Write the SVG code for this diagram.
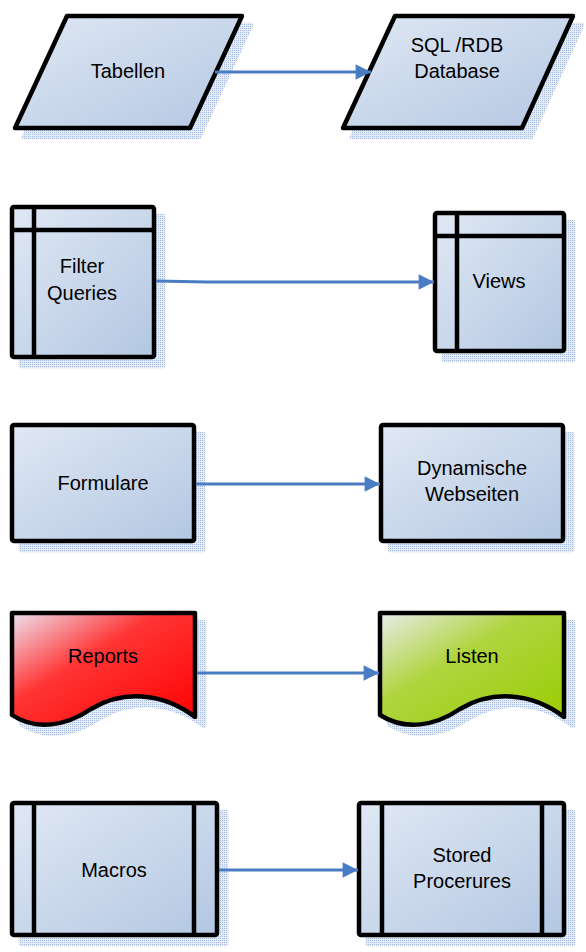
<svg xmlns="http://www.w3.org/2000/svg" width="586" height="952" viewBox="0 0 586 952">
<defs>
<linearGradient id="gBlue" x1="0" y1="0" x2="1" y2="1">
<stop offset="0" stop-color="#e0e8f4"/>
<stop offset="1" stop-color="#b3c7e2"/>
</linearGradient>
<linearGradient id="gRed" x1="0" y1="0" x2="1" y2="1">
<stop offset="0" stop-color="#ece4f0"/>
<stop offset="0.4" stop-color="#ff3535"/>
<stop offset="1" stop-color="#ff0000"/>
</linearGradient>
<linearGradient id="gGreen" x1="0" y1="0" x2="1" y2="1">
<stop offset="0" stop-color="#e8ecec"/>
<stop offset="0.4" stop-color="#b0d540"/>
<stop offset="1" stop-color="#99cc00"/>
</linearGradient>
<pattern id="dots" width="2" height="2" patternUnits="userSpaceOnUse">
<rect width="2" height="2" fill="#e6ecf6"/>
<rect width="1" height="1" fill="#a6bce0"/>
</pattern>
<marker id="arr" viewBox="0 0 10 10" refX="10" refY="5" markerWidth="6" markerHeight="5.5" markerUnits="strokeWidth" orient="auto">
<path d="M0,0 L10,5 L0,10 z" fill="#4a7cc4"/>
</marker>
</defs>
<style>
.sh{fill:url(#dots);stroke:url(#dots);stroke-width:4.5;stroke-linejoin:round}
.bx{stroke:#000;stroke-width:4.5;stroke-linejoin:round;fill:url(#gBlue)}
.ln{stroke:#000;stroke-width:4.5;fill:none}
.t{font-family:"Liberation Sans",Arial,sans-serif;font-size:20px;fill:#000;text-anchor:middle}
.c{stroke:#4a7cc4;stroke-width:2.8;fill:none}
</style>

<g id="tabellen">
<path class="sh" d="M76,25 L251,25 L199,137 L24,137 z"/>
<path class="bx" d="M67,16 L242,16 L190,128 L15,128 z"/>
<text class="t" x="128" y="78">Tabellen</text>
</g>

<g id="sqlrdb">
<path class="sh" d="M404,25 L582,25 L531,137 L352,137 z"/>
<path class="bx" d="M395,16 L573,16 L522,128 L343,128 z"/>
<text class="t" x="457" y="52">SQL /RDB</text>
<text class="t" x="457" y="78">Database</text>
</g>

<g id="filterqueries">
<rect class="sh" x="21" y="216" width="142" height="150"/>
<rect class="bx" x="12" y="207" width="142" height="150" rx="2"/>
<line class="ln" x1="12" y1="230" x2="154" y2="230"/>
<line class="ln" x1="34" y1="207" x2="34" y2="357"/>
<text class="t" x="82" y="273">Filter</text>
<text class="t" x="82" y="300">Queries</text>
</g>

<g id="views">
<rect class="sh" x="444" y="222" width="129" height="138"/>
<rect class="bx" x="435" y="213" width="129" height="138" rx="2"/>
<line class="ln" x1="435" y1="236" x2="564" y2="236"/>
<line class="ln" x1="457" y1="213" x2="457" y2="351"/>
<text class="t" x="499" y="288">Views</text>
</g>

<g id="formulare">
<rect class="sh" x="21" y="434" width="182" height="116"/>
<rect class="bx" x="12" y="425" width="182" height="116" rx="2"/>
<text class="t" x="103" y="490">Formulare</text>
</g>

<g id="dynamische">
<rect class="sh" x="390" y="434" width="182" height="116"/>
<rect class="bx" x="381" y="425" width="182" height="116" rx="2"/>
<text class="t" x="472" y="475">Dynamische</text>
<text class="t" x="472" y="501">Webseiten</text>
</g>

<g id="reports">
<path class="sh" d="M21,622 L204,622 L204,726 C170,700 130,700 100,718 C75,735 45,740 21,724 z"/>
<path class="bx" style="fill:url(#gRed)" d="M12,613 L195,613 L195,717 C161,691 121,691 91,709 C66,726 36,731 12,715 z"/>
<text class="t" x="103" y="663">Reports</text>
</g>

<g id="listen">
<path class="sh" d="M389,622 L573,622 L573,726 C539,700 499,700 469,718 C444,735 414,740 389,724 z"/>
<path class="bx" style="fill:url(#gGreen)" d="M380,613 L564,613 L564,717 C530,691 490,691 460,709 C435,726 405,731 380,715 z"/>
<text class="t" x="472" y="663">Listen</text>
</g>

<g id="macros">
<rect class="sh" x="21" y="812" width="205" height="132"/>
<rect class="bx" x="12" y="803" width="205" height="132" rx="2"/>
<line class="ln" x1="34" y1="803" x2="34" y2="935"/>
<line class="ln" x1="194" y1="803" x2="194" y2="935"/>
<text class="t" x="114" y="877">Macros</text>
</g>

<g id="stored">
<rect class="sh" x="368" y="812" width="205" height="132"/>
<rect class="bx" x="359" y="803" width="205" height="132" rx="2"/>
<line class="ln" x1="382" y1="803" x2="382" y2="935"/>
<line class="ln" x1="542" y1="803" x2="542" y2="935"/>
<text class="t" x="462" y="862">Stored</text>
<text class="t" x="462" y="888">Procerures</text>
</g>

<g id="connectors">
<line class="c" x1="215" y1="72" x2="371" y2="72" marker-end="url(#arr)"/>
<path class="c" d="M156,281 L207,282 L434,282" marker-end="url(#arr)"/>
<line class="c" x1="196" y1="484" x2="380" y2="484" marker-end="url(#arr)"/>
<line class="c" x1="197" y1="673" x2="379" y2="673" marker-end="url(#arr)"/>
<line class="c" x1="219" y1="870" x2="358" y2="870" marker-end="url(#arr)"/>
</g>
</svg>
